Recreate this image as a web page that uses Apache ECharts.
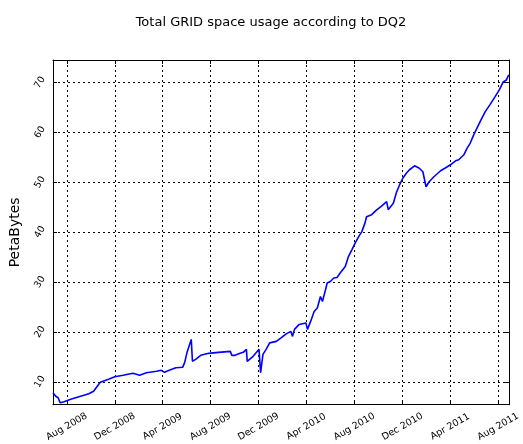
<!DOCTYPE html>
<html>
<head>
<meta charset="utf-8">
<title>GRID space usage</title>
<script src="https://cdn.jsdelivr.net/npm/echarts@6/dist/echarts.min.js"></script>
<style>
  html, body { margin: 0; padding: 0; background: #fff; }
  #main { width: 523px; height: 444px; }
</style>
</head>
<body>
<div id="main"></div>
<script>
// values
var dates = [
  '2008-06-27', '2008-07-04', '2008-07-10', '2008-07-15', '2008-07-25', '2008-08-11',
  '2008-09-05', '2008-09-26', '2008-10-08', '2008-10-25', '2008-11-15', '2008-12-01',
  '2008-12-22', '2009-01-16', '2009-02-02', '2009-02-19', '2009-03-17', '2009-03-29',
  '2009-04-06', '2009-04-18', '2009-05-05', '2009-05-22', '2009-05-27', '2009-06-02',
  '2009-06-13', '2009-06-16', '2009-06-24', '2009-07-07', '2009-07-27', '2009-08-21',
  '2009-09-20', '2009-09-24', '2009-10-02', '2009-10-15', '2009-10-23', '2009-10-31',
  '2009-11-02', '2009-11-17', '2009-12-02', '2009-12-06', '2009-12-12', '2009-12-20',
  '2009-12-29', '2010-01-15', '2010-01-27', '2010-02-09', '2010-02-21', '2010-02-25',
  '2010-03-02', '2010-03-14', '2010-03-31', '2010-04-04', '2010-04-12', '2010-04-21',
  '2010-04-29', '2010-05-07', '2010-05-12', '2010-05-20', '2010-05-24', '2010-06-01',
  '2010-06-10', '2010-06-18', '2010-06-26', '2010-07-09', '2010-07-17', '2010-07-26',
  '2010-08-03', '2010-08-12', '2010-08-20', '2010-08-28', '2010-09-01', '2010-09-14',
  '2010-09-26', '2010-10-09', '2010-10-22', '2010-10-26', '2010-11-08', '2010-11-16',
  '2010-11-24', '2010-12-02', '2010-12-11', '2010-12-19', '2011-01-01', '2011-01-13',
  '2011-01-22', '2011-01-30', '2011-02-07', '2011-02-19', '2011-03-08', '2011-03-21',
  '2011-04-02', '2011-04-15', '2011-04-23', '2011-05-06', '2011-05-14', '2011-05-22',
  '2011-05-31', '2011-06-08', '2011-06-16', '2011-06-29', '2011-07-11', '2011-07-24',
  '2011-08-04', '2011-08-14', '2011-08-22', '2011-08-28'
];
var usage = [
  7.8, 7.1, 6.8, 5.8, 6.0, 6.5,
  7.1, 7.6, 8.1, 9.9, 10.5, 11.0,
  11.3, 11.7, 11.3, 11.8, 12.1, 12.3,
  11.9, 12.3, 12.8, 12.9, 13.8, 15.8,
  18.5, 14.1, 14.5, 15.3, 15.7, 15.9,
  16.1, 15.3, 15.3, 15.7, 15.9, 16.5,
  14.1, 15.1, 16.5, 11.8, 15.5, 16.5,
  17.8, 18.1, 18.8, 19.6, 20.1, 19.1,
  20.5, 21.5, 21.8, 20.5, 22.1, 24.1,
  24.8, 27.1, 26.1, 28.5, 29.8, 30.1,
  30.8, 30.9, 31.8, 33.1, 35.1, 36.5,
  37.8, 39.1, 40.1, 41.8, 43.1, 43.5,
  44.4, 45.2, 46.1, 44.5, 45.8, 48.0,
  49.5, 50.8, 51.8, 52.5, 53.3, 52.8,
  52.1, 49.1, 50.1, 51.1, 52.3, 52.9,
  53.5, 54.3, 54.5, 55.5, 56.8, 57.8,
  59.5, 60.8, 62.1, 64.1, 65.5, 67.1,
  68.5, 70.1, 70.5, 71.5
];
var tickDates = ['2008-08-01', '2008-12-01', '2009-04-01', '2009-08-01', '2009-12-01',
  '2010-04-01', '2010-08-01', '2010-12-01', '2011-04-01', '2011-08-01'];
var tickLabels = ['Aug 2008', 'Dec 2008', 'Apr 2009', 'Aug 2009', 'Dec 2009',
  'Apr 2010', 'Aug 2010', 'Dec 2010', 'Apr 2011', 'Aug 2011'];
var yTicks = [10, 20, 30, 40, 50, 60, 70];

// days since 2008-08-01 (plain numbers, so the value axis can place them)
function toDay(s) {
  var p = s.split('-');
  return Math.round((Date.UTC(+p[0], +p[1] - 1, +p[2]) - Date.UTC(2008, 7, 1)) / 86400000);
}

var xMin = toDay('2008-06-27');
var xMax = toDay('2011-08-28');
var xTicks = tickDates.map(toDay);
var seriesData = dates.map(function (d, i) { return [toDay(d), usage[i]]; });

var font = 'DejaVu Sans';
var gridDots = { color: '#000', width: 1, type: [2, 3] };

function xAxisCfg(pos) {
  var bottom = pos === 'bottom';
  return {
    type: 'value',
    position: pos,
    min: xMin,
    max: xMax,
    axisLine: { show: true, onZero: false, lineStyle: { color: '#000', width: 1 } },
    axisTick: { show: true, inside: true, length: 4, customValues: xTicks, lineStyle: { color: '#000' } },
    axisLabel: {
      show: bottom,
      customValues: xTicks,
      rotate: 30,
      align: 'center',
      verticalAlign: 'middle',
      margin: 22,
      fontFamily: font,
      fontSize: 9.5,
      color: '#000',
      formatter: function (v) {
        var i = xTicks.indexOf(Math.round(v));
        return i >= 0 ? tickLabels[i] : '';
      }
    },
    splitLine: { show: bottom, lineStyle: gridDots }
  };
}

function yAxisCfg(pos) {
  var left = pos === 'left';
  return {
    type: 'value',
    position: pos,
    min: 5.4,
    max: 74.5,
    name: left ? 'PetaBytes' : '',
    nameLocation: 'middle',
    nameGap: 31,
    nameTextStyle: { fontFamily: font, fontSize: 14, color: '#000' },
    axisLine: { show: true, onZero: false, lineStyle: { color: '#000', width: 1 } },
    axisTick: { show: true, inside: true, length: 4, customValues: yTicks, lineStyle: { color: '#000' } },
    axisLabel: {
      show: left,
      customValues: yTicks,
      rotate: 60,
      align: 'center',
      verticalAlign: 'middle',
      margin: 13,
      fontFamily: font,
      fontSize: 9.5,
      color: '#000'
    },
    splitLine: { show: left, lineStyle: gridDots }
  };
}

var myChart = echarts.init(document.getElementById('main'));
myChart.setOption({
  animation: false,
  backgroundColor: '#fff',
  title: {
    text: 'Total GRID space usage according to DQ2',
    left: 266,
    textAlign: 'center',
    top: 11,
    textStyle: { fontFamily: font, fontSize: 13, fontWeight: 'normal', color: '#000' }
  },
  grid: { left: 52, right: 9, top: 60, bottom: 37, containLabel: false },
  xAxis: [xAxisCfg('bottom'), xAxisCfg('top')],
  yAxis: [yAxisCfg('left'), yAxisCfg('right')],
  series: [{
    type: 'line',
    data: seriesData,
    showSymbol: false,
    symbol: 'none',
    lineStyle: { color: '#0000ff', width: 1.6 },
    itemStyle: { color: '#0000ff' }
  }]
});
</script>
</body>
</html>
